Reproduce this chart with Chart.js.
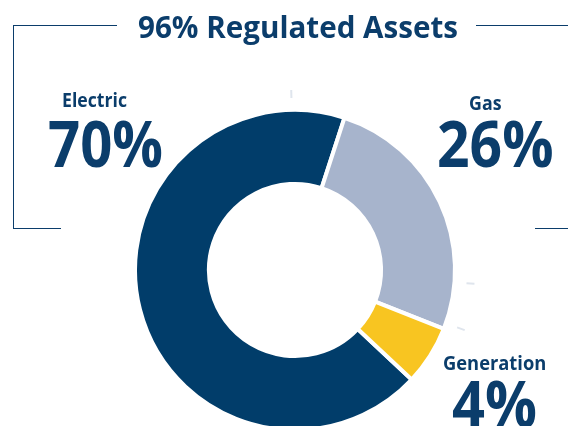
<!DOCTYPE html>
<html>
<head>
<meta charset="utf-8">
<script src="https://cdn.jsdelivr.net/npm/chart.js@4.4.1/dist/chart.umd.min.js"></script>
<style>
  html, body { margin: 0; padding: 0; background: #fff; overflow: hidden; }
  #stage { position: relative; width: 568px; height: 426px; overflow: hidden; font-family: "Open Sans", sans-serif; color: #0b3d6b; }
  #stage canvas { position: absolute; left: 0; top: 0; }
  .rule { position: absolute; background: #0b3d6b; }
  .lbl { position: absolute; left: 0; top: 0; white-space: nowrap; font-weight: 700; line-height: 1; transform-origin: 0 0; }
  .lbl i { display: inline-block; width: 0; height: 0; }
</style>
</head>
<body>
<div id="stage">
  <div class="rule" style="left:12.5px;top:24.5px;width:1.5px;height:204px"></div>
  <div class="rule" style="left:12.5px;top:24.5px;width:104px;height:1.5px"></div>
  <div class="rule" style="left:476px;top:24.5px;width:92px;height:1.5px"></div>
  <div class="rule" style="left:12.5px;top:227.5px;width:48px;height:1.5px"></div>
  <div class="rule" style="left:535px;top:227.5px;width:33px;height:1.5px"></div>
  <canvas id="chart" width="568" height="426"></canvas>
</div>
<script>
  const title = "96% Regulated Assets";
  const categories = ["Electric", "Gas", "Generation"];
  const shares = [68, 26, 6];          // slice sizes as drawn
  const shownPercents = ["70%", "26%", "4%"];
  const sliceColors = ["#013d6a", "#a7b4cc", "#f8c521"];

  // text layout: centre x, baseline y, cap height, ink width
  const titleBox = { cx: 298, base: 38.3, cap: 21.6, w: 320 };
  const nameBoxes = [
    { cx: 94, base: 106.7, cap: 13.4, w: 65 },
    { cx: 485.5, base: 110, cap: 13.4, w: 32.5 },
    { cx: 494.3, base: 369.5, cap: 14, w: 103.3 }
  ];
  const pctBoxes = [
    { cx: 105.8, base: 167.3, cap: 45.6, w: 115 },
    { cx: 495, base: 167.3, cap: 45.6, w: 116.6 },
    { cx: 494.2, base: 427.3, cap: 45.6, w: 85 }
  ];

  const stage = document.getElementById("stage");

  function placeText(text, box) {
    const el = document.createElement("div");
    el.className = "lbl";
    const size = box.cap / 0.714;
    el.style.fontSize = size + "px";
    el.textContent = text;
    const probe = document.createElement("i");
    el.appendChild(probe);
    stage.appendChild(el);
    const natural = el.getBoundingClientRect().width;
    const baseline = probe.offsetTop;
    const sx = box.w / natural;
    el.style.left = (box.cx - box.w / 2) + "px";
    el.style.top = (box.base - baseline) + "px";
    el.style.transform = "scaleX(" + sx + ")";
  }

  const leaderStubs = {
    id: "leaderStubs",
    afterDatasetsDraw(chart) {
      const arc = chart.getDatasetMeta(0).data[0];
      if (!arc) return;
      const { ctx } = chart;
      const r = arc.outerRadius;
      ctx.save();
      ctx.strokeStyle = "#dfe5ed";
      ctx.lineWidth = 2;
      [-1.2, 94.4, 109.5].forEach((deg) => {
        const a = (deg - 90) * Math.PI / 180;
        ctx.beginPath();
        ctx.moveTo(arc.x + Math.cos(a) * (r + 12), arc.y + Math.sin(a) * (r + 12));
        ctx.lineTo(arc.x + Math.cos(a) * (r + 20), arc.y + Math.sin(a) * (r + 20));
        ctx.stroke();
      });
      ctx.restore();
    }
  };

  new Chart(document.getElementById("chart"), {
    type: "doughnut",
    data: {
      labels: categories,
      datasets: [{
        data: shares,
        backgroundColor: sliceColors,
        borderColor: "#ffffff",
        borderWidth: 4,
        hoverOffset: 0,
        clip: false
      }]
    },
    options: {
      responsive: false,
      animation: false,
      rotation: 133.2,
      radius: 160,
      cutout: "53.8%",
      layout: { padding: { left: 22, right: 0, top: 114, bottom: 0 } },
      plugins: { legend: { display: false }, tooltip: { enabled: false } },
      events: []
    },
    plugins: [leaderStubs]
  });

  document.fonts.ready.then(() => {
    placeText(title, titleBox);
    categories.forEach((name, i) => placeText(name, nameBoxes[i]));
    shownPercents.forEach((p, i) => placeText(p, pctBoxes[i]));
  });
</script>
</body>
</html>
